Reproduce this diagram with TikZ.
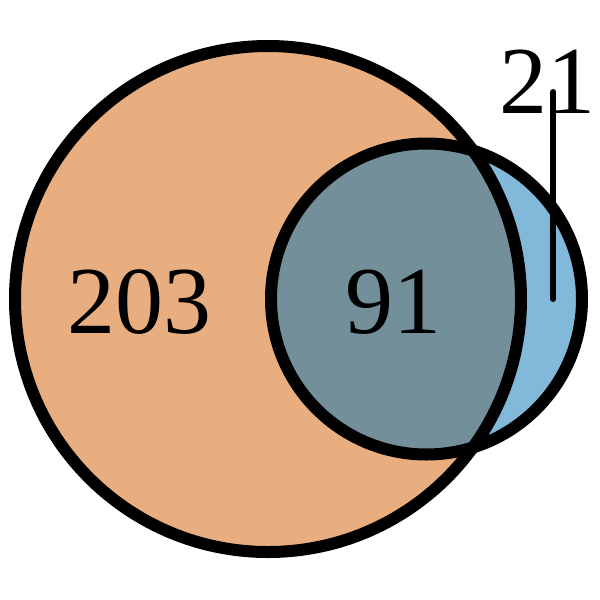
\documentclass[tikz,border=0pt]{standalone}
\usepackage{fontspec}
\setmainfont{Liberation Serif}
\definecolor{orangeA}{HTML}{E8AE7F}
\definecolor{blueB}{HTML}{82B8DA}
\definecolor{overlapAB}{HTML}{73909A}
\begin{document}
\begin{tikzpicture}[x=0.5pt,y=-0.5pt,
  outline/.style={draw=black,line width=6pt},
  numlabel/.style={font=\fontsize{48pt}{48pt}\selectfont,inner sep=0pt}]
\useasboundingbox (0,0) rectangle (600,600);
\coordinate (cA) at (268,299);
\coordinate (cB) at (426.5,299);
\fill[orangeA] (cA) circle[radius=253];
\fill[blueB] (cB) circle[radius=155.5];
\begin{scope}
  \clip (cA) circle[radius=253];
  \fill[overlapAB] (cB) circle[radius=155.5];
\end{scope}
\draw[outline] (cA) circle[radius=253];
\draw[outline] (cB) circle[radius=155.5];
\node[numlabel,anchor=base] (l203) at (140,333) {203};
\node[numlabel,anchor=base] (l91) at (393,333) {91};
\node[numlabel,anchor=base] (l21) at (547,113) {21};
\coordinate (t21) at (553.3,92);
\coordinate (p21) at (553.3,299);
\draw[line width=3pt,line cap=round] (t21) -- (p21);
\end{tikzpicture}
\end{document}
